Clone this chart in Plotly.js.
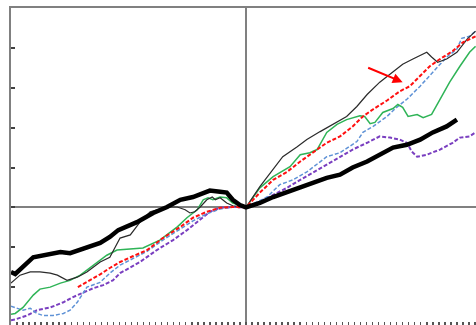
<!DOCTYPE html>
<html>
<head>
<meta charset="utf-8">
<script src="https://cdn.plot.ly/plotly-3.0.1.min.js"></script>
<style>
html,body{margin:0;padding:0;overflow:hidden;background:#fff;}
#chart{width:481px;height:327px;}
</style>
</head>
<body>
<div id="chart"></div>
<script>
// Thick black series
const thickX = [-39, -38.3, -35.3, -33.7, -30.8, -29.2, -27.5, -25.9, -24.2, -22.6, -21.2, -18.1, -15.4, -13.1, -10.9, -8.8, -7.1, -6.0, -4.3, -3.2, -2.2, -1.0, 0, 2.3, 4.5, 6.8, 9.0, 11.1, 13.4, 15.6, 17.7, 20.1, 22.2, 24.4, 26.7, 28.9, 31.0, 33.3, 35.0];
const thickY = [-16.2, -16.7, -12.5, -12.0, -11.2, -11.5, -10.7, -9.9, -8.9, -7.4, -5.7, -3.7, -1.4, 0.1, 1.9, 2.6, 3.7, 4.2, 3.9, 3.7, 1.9, 0.6, 0, 1.1, 2.6, 3.9, 4.9, 6.2, 7.4, 8.2, 10.0, 11.5, 13.2, 15.0, 15.7, 17.0, 18.8, 20.3, 22.0];

// Thin black series
const thinX = [-39, -37.5, -35.8, -34.2, -32.5, -31.3, -29.7, -28.0, -26.4, -24.2, -22.6, -20.9, -19.2, -17.6, -15.9, -13.1, -11.4, -10.1, -9.3, -8.5, -7.6, -6.5, -5.6, -5.1, -4.3, -3.2, -2.2, 0, 2.3, 4.5, 6.1, 8.5, 10.1, 12.3, 14.4, 16.7, 18.4, 20.1, 22.2, 24.4, 26.0, 27.7, 30.0, 30.8, 31.8, 33.3, 35.0, 36.7, 38.1];
const thinY = [-19.0, -17.0, -16.2, -16.2, -16.5, -17.0, -18.3, -17.5, -16.2, -13.7, -12.5, -7.7, -6.9, -3.7, -1.1, 0.1, 0.1, -0.6, -1.4, -1.1, 0.1, 1.9, 2.6, 1.9, 2.4, 1.1, 0.4, 0, 5.2, 9.4, 12.7, 15.2, 17.0, 19.0, 20.8, 22.8, 25.3, 28.3, 31.4, 34.1, 35.9, 37.2, 38.9, 37.7, 36.4, 37.2, 38.9, 42.2, 44.2];

// Green series
const greenX = [-39, -38.3, -37.0, -35.3, -34.2, -32.5, -30.8, -29.2, -27.5, -25.9, -24.2, -23.1, -21.4, -19.2, -17.1, -14.3, -11.4, -9.8, -8.1, -7.1, -6.3, -5.5, -4.3, -3.2, -2.2, 0, 2.3, 4.5, 7.3, 9.0, 10.6, 11.8, 13.4, 15.1, 16.7, 18.9, 19.7, 20.6, 21.4, 22.7, 24.4, 25.2, 26.0, 26.9, 28.4, 29.4, 30.8, 32.2, 33.8, 35.5, 37.1, 38.1];
const greenY = [-26.8, -26.6, -25.1, -22.0, -20.5, -20.0, -19.0, -18.3, -17.0, -15.2, -13.2, -12.0, -10.7, -10.4, -10.2, -8.2, -4.9, -2.6, -0.6, 1.9, 2.4, 1.9, 2.6, 2.4, 1.1, 0, 4.9, 7.7, 10.2, 13.2, 13.7, 14.5, 18.8, 20.8, 22.0, 23.0, 22.8, 21.0, 21.3, 23.8, 24.8, 25.8, 25.1, 22.8, 23.3, 22.5, 23.3, 27.1, 31.4, 35.4, 38.9, 40.4];

// Red dashed series
const redX = [-27.9, -25.9, -24.2, -22.6, -20.9, -18.7, -16.4, -13.8, -10.9, -8.8, -6.5, -4.3, -2.2, 0, 2.3, 4.5, 6.8, 9.0, 11.1, 13.4, 15.6, 17.7, 19.4, 21.1, 23.4, 25.5, 27.2, 28.9, 30.5, 32.2, 34.3, 36.0, 38.1];
const redY = [-20.0, -18.3, -16.8, -15.2, -13.7, -12.2, -10.7, -7.7, -4.9, -2.6, -1.1, -0.1, 0.1, 0, 3.7, 6.9, 8.9, 11.5, 13.7, 16.2, 17.8, 20.3, 22.8, 24.6, 26.8, 29.1, 30.4, 32.9, 35.4, 37.2, 39.2, 41.4, 42.9];

// Blue dashed series
const blueX = [-39, -38.3, -37.0, -35.8, -34.7, -33.7, -32.0, -30.3, -29.2, -28.0, -26.4, -24.2, -22.6, -20.9, -18.7, -16.4, -13.8, -10.9, -8.8, -6.5, -4.3, -2.2, 0, 3.5, 5.6, 7.8, 10.1, 13.4, 15.6, 18.4, 19.4, 21.1, 23.4, 25.0, 26.7, 28.9, 31.0, 33.3, 35.0, 35.8, 37.1, 38.1];
const blueY = [-24.8, -25.1, -25.8, -25.3, -26.6, -27.1, -27.1, -26.6, -25.8, -23.8, -20.0, -18.8, -16.5, -14.5, -12.7, -11.0, -8.2, -5.4, -3.4, -1.6, -0.4, 0.1, 0, 2.6, 5.7, 6.9, 8.9, 12.7, 13.7, 16.5, 18.8, 20.3, 22.8, 25.1, 27.1, 30.4, 33.9, 37.7, 39.7, 42.4, 42.9, 44.2];

// Purple dashed series
const purpleX = [-39, -38.3, -36.3, -34.7, -32.5, -30.3, -28.7, -27.0, -25.4, -23.7, -22.1, -20.9, -17.6, -14.8, -12.1, -9.8, -7.6, -6.0, -4.3, -2.2, 0, 2.3, 4.5, 6.8, 9.0, 11.1, 13.4, 15.6, 17.7, 20.1, 22.2, 23.9, 25.5, 26.7, 27.5, 28.4, 30.0, 32.2, 34.3, 35.5, 37.1, 38.1];
const purpleY = [-28.3, -28.1, -27.1, -25.8, -25.1, -23.8, -22.5, -21.3, -20.3, -19.5, -18.3, -16.5, -13.7, -10.7, -8.2, -5.7, -3.1, -1.1, -0.1, 0.1, 0, 1.4, 3.1, 4.9, 6.9, 8.7, 10.7, 12.7, 14.5, 16.2, 17.8, 17.5, 17.0, 16.2, 14.0, 12.7, 13.2, 14.5, 16.2, 17.5, 17.8, 18.8];

// Arrow annotation head position
const arrowPoint = {x: 26.0, y: 31.4};

const traces = [
  {x: purpleX, y: purpleY, mode: 'lines', line: {color: '#7a3fc0', width: 2, dash: '4px,2px'}},
  {x: blueX, y: blueY, mode: 'lines', line: {color: '#5f92d6', width: 1.5, dash: '4px,2px'}},
  {x: greenX, y: greenY, mode: 'lines', line: {color: '#2fb457', width: 1.5}},
  {x: thinX, y: thinY, mode: 'lines', line: {color: '#2a2a2a', width: 1.2}},
  {x: redX, y: redY, mode: 'lines', line: {color: '#ff1010', width: 2, dash: '4px,2px'}},
  {x: thickX, y: thickY, mode: 'lines', line: {color: '#000000', width: 4.5}}
];

const layout = {
  width: 481, height: 327,
  margin: {l: 11, r: 0, t: 8, b: 0, pad: 0},
  paper_bgcolor: '#ffffff', plot_bgcolor: '#ffffff',
  showlegend: false,
  xaxis: {
    range: [-39, 39], dtick: 1, tick0: 0,
    ticks: 'inside', ticklen: 5, tickwidth: 1.5, tickcolor: '#555555',
    showticklabels: false, showgrid: false,
    zeroline: true, zerolinecolor: '#808080', zerolinewidth: 2,
    showline: true, linecolor: '#808080', linewidth: 2, mirror: true
  },
  yaxis: {
    range: [-30, 50], dtick: 10, tick0: 0,
    ticks: 'inside', ticklen: 4, tickwidth: 2, tickcolor: '#404040',
    showticklabels: false, showgrid: false,
    zeroline: true, zerolinecolor: '#808080', zerolinewidth: 2,
    showline: true, linecolor: '#808080', linewidth: 2, mirror: true
  },
  annotations: [{
    x: arrowPoint.x, y: arrowPoint.y, xref: 'x', yref: 'y',
    text: '', showarrow: true, arrowhead: 2, arrowsize: 1, arrowwidth: 2,
    arrowcolor: '#ff0000', ax: -36, ay: -15, standoff: 0
  }]
};

Plotly.newPlot('chart', traces, layout, {staticPlot: true, displayModeBar: false});
</script>
</body>
</html>
